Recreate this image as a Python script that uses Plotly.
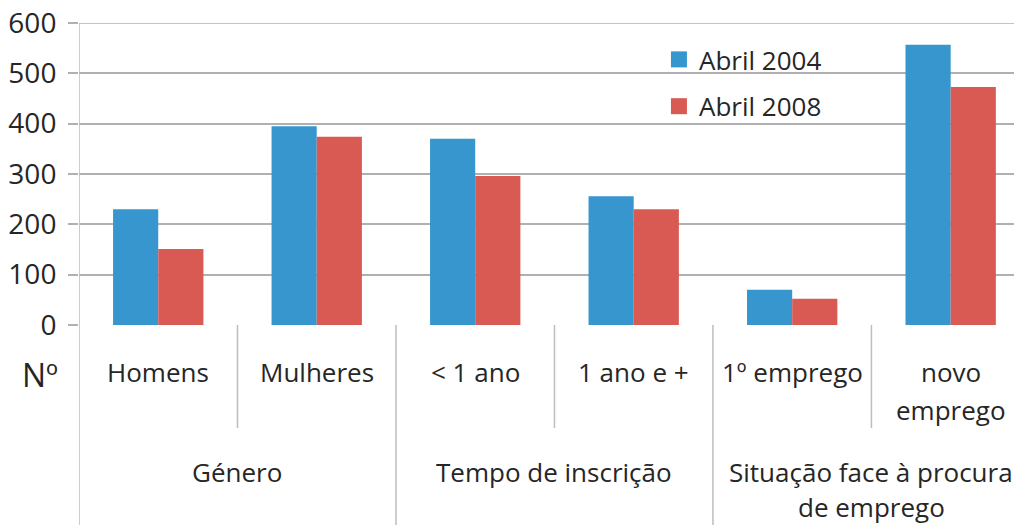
import plotly.graph_objects as go

categories = ["Homens", "Mulheres", "< 1 ano", "1 ano e +", "1º emprego", "novo emprego"]
groups = ["Género", "Tempo de inscrição", "Situação face à procura de emprego"]
series_names = ["Abril 2004", "Abril 2008"]
abril_2004 = [230, 395, 370, 256, 70, 557]
abril_2008 = [151, 374, 296, 230, 52, 473]
y_ticks = [0, 100, 200, 300, 400, 500, 600]

BLUE = "#3796CD"
RED = "#D95953"
TXT = "#262626"
FONT = "Open Sans"
GRID = "#b0b0b0"
AXIS = "#bdbdbd"

# page body has an 8px margin, so the figure is drawn 8px smaller/offset
OFF = 8
PLOT_TOP, PLOT_BOT, PLOT_LEFT = 23, 325, 79
PH = PLOT_BOT - PLOT_TOP
PW = 1022 - PLOT_LEFT


def py(pix):
    return (PLOT_BOT - pix) / PH


x_idx = list(range(len(categories)))

fig = go.Figure()
fig.add_trace(go.Bar(x=x_idx, y=abril_2004, name=series_names[0], marker_color=BLUE,
                     marker_line_width=0, showlegend=False))
fig.add_trace(go.Bar(x=x_idx, y=abril_2008, name=series_names[1], marker_color=RED,
                     marker_line_width=0, showlegend=False))
for nm, col in zip(series_names, [BLUE, RED]):
    fig.add_trace(go.Scatter(x=[None], y=[None], mode="markers", name=nm, legendgroup=nm,
                             marker=dict(symbol="square", size=17, color=col)))

shapes = []
# top gridline (at the edge of the range)
shapes.append(dict(type="line", xref="paper", yref="y", x0=0, x1=1, y0=y_ticks[-1], y1=y_ticks[-1],
                   line=dict(color=GRID, width=1.5), layer="below"))
shapes.append(dict(type="line", xref="x", yref="paper", x0=-0.5, x1=-0.5, y0=1, y1=py(530),
                   line=dict(color=AXIS, width=1.5)))
for xb in [0.5, 1.5, 2.5, 3.5, 4.5]:
    y1 = py(530) if xb in (1.5, 3.5) else py(428)
    shapes.append(dict(type="line", xref="x", yref="paper", x0=xb, x1=xb, y0=0, y1=y1,
                       line=dict(color=AXIS, width=1.5)))

LBL = dict(size=26, color=TXT, family=FONT)
ann = []


def label(x, ypix, text, xref="x", font=LBL):
    ann.append(dict(x=x, y=py(ypix), text=text, xref=xref, yref="paper", showarrow=False,
                    xanchor="center", yanchor="middle", font=font))


for i, c in enumerate(categories):
    if c == "novo emprego":
        label(i, 372, "novo")
        label(i, 410, "emprego")
    else:
        label(i, 372, c)
label(0.5, 472, groups[0])
label(2.5, 472, groups[1])
label(4.5, 472, "Situação face à procura")
label(4.5, 507, "de emprego")
label((40 - PLOT_LEFT) / PW, 374, "Nº", xref="paper", font=dict(size=32, color=TXT, family=FONT))

fig.update_layout(
    width=1022 - OFF, height=525 - OFF,
    margin=dict(l=PLOT_LEFT - OFF, r=0, t=PLOT_TOP - OFF, b=525 - PLOT_BOT, autoexpand=False),
    plot_bgcolor="white", paper_bgcolor="white",
    font=dict(family=FONT, size=26, color=TXT),
    barmode="group", bargap=0.43, bargroupgap=0,
    xaxis=dict(range=[-0.5, 5.45], showticklabels=False, showgrid=False, zeroline=False,
               showline=False, ticks="", automargin=False),
    yaxis=dict(range=[0, 600], tickvals=y_ticks, showgrid=True, gridcolor=GRID, gridwidth=1.5,
               zeroline=False, showline=False, ticks="outside", ticklen=10, tickcolor=GRID,
               tickwidth=1.5, ticklabelstandoff=6, automargin=False, ticklabeloverflow="allow",
               tickfont=dict(size=28, color=TXT, family=FONT)),
    legend=dict(x=0.615, y=0.957, xanchor="left", yanchor="top", bgcolor="rgba(0,0,0,0)",
                tracegroupgap=10, font=dict(size=26, color=TXT, family=FONT), itemsizing="trace"),
    shapes=shapes, annotations=ann,
)

fig.write_html("out.html")
